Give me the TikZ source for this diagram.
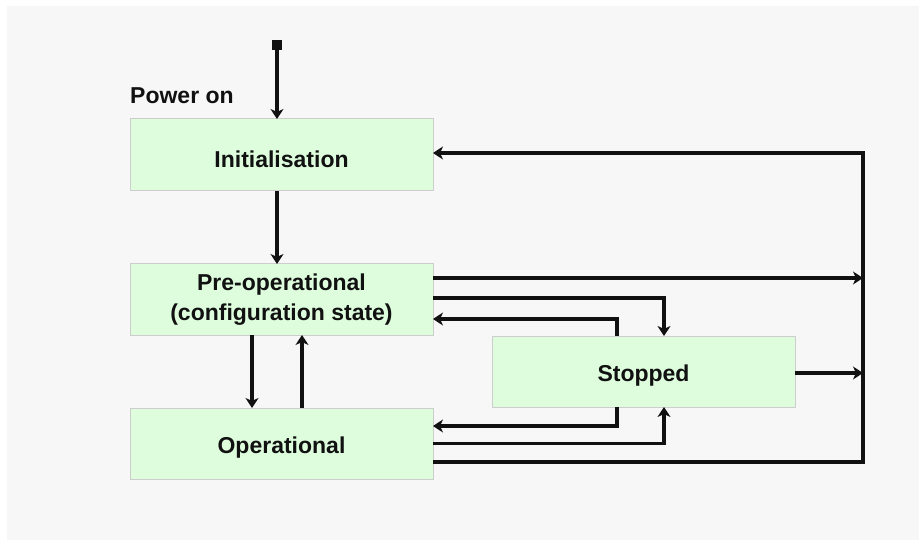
\documentclass[tikz,border=0pt]{standalone}
\usepackage{fontspec}
\setmainfont{Liberation Sans}
\usetikzlibrary{arrows.meta}
\definecolor{pagegray}{HTML}{F7F7F7}
\definecolor{statefill}{HTML}{DDFDDD}
\definecolor{stateline}{HTML}{CDCDCD}
\definecolor{ink}{HTML}{111111}
\begin{document}
\begin{tikzpicture}[x=1pt,y=-1pt,
  statebox/.style={draw=stateline, line width=1pt, fill=statefill,
    minimum width=303pt, inner sep=0pt, outer sep=0pt, align=center,
    text=ink, font=\fontsize{23}{30}\selectfont\bfseries,
    % extra strut on the first line sets the label a little low in the box
    execute at begin node={\rule{0pt}{25pt}}},
  arr/.style={draw=ink, line width=3.2pt,
    -{Stealth[length=10pt,width=13pt,inset=3pt]}},
  startsq/.style={{Square[length=10pt,width=10.5pt]}-{Stealth[length=10pt,width=13pt,inset=3pt]}}
]
% canvas
\useasboundingbox (0,0) rectangle (919,540);
\fill[white] (0,0) rectangle (919,540);
\fill[pagegray] (7,6) rectangle (919,540);

% states
\node[statebox, minimum height=72pt] (init) at (281.5,155) {Initialisation};
\node[statebox, minimum height=71pt] (pre)  at (281.5,299.5) {Pre-operational\\(configuration state)};
\node[statebox, minimum height=71pt] (oper) at (281.5,443.5) {Operational};
\node[statebox, minimum height=71pt] (stop) at (643.5,371.5) {Stopped};

% power on entry
\node[anchor=base west, text=ink, font=\fontsize{23}{28}\selectfont\bfseries, inner sep=0pt] (pwrlabel) at (130,104) {Power on};
\coordinate (pwr) at (277,40);
\draw[arr, startsq] (pwr) -- (init.north -| pwr);

% initialisation to pre-operational
\draw[arr] (init.south -| pwr) -- (pre.north -| pwr);

% pre-operational <-> operational
\draw[arr] ([xshift=-29.5pt]pre.south) -- ([xshift=-29.5pt]oper.north);
\draw[arr] ([xshift=20.5pt]oper.north) -- ([xshift=20.5pt]pre.south);

% connection points on the right edges
\coordinate (bus) at (863,153);
\coordinate (p1) at ([yshift=21.5pt]pre.east);
\coordinate (p2) at ([yshift=1.5pt]pre.east);
\coordinate (p3) at ([yshift=-19.5pt]pre.east);
\coordinate (o1) at ([yshift=17.5pt]oper.east);
\coordinate (o2) at (oper.east);
\coordinate (o3) at ([yshift=-18.5pt]oper.east);
\coordinate (sl) at ([xshift=-26.5pt]stop.north);
\coordinate (sr) at ([xshift=20.5pt]stop.north);
\coordinate (bl) at ([xshift=-26.5pt]stop.south);
\coordinate (br) at ([xshift=20.5pt]stop.south);

% transitions into the reset bus
\draw[arr] (p1) -- (p1 -| bus);
\draw[arr] ([yshift=-1.5pt]stop.east) -- ([yshift=-1.5pt]stop.east -| bus);
\draw[arr] (o3) -| (bus) -- (bus -| init.east);

% pre-operational <-> stopped
\draw[arr] (p2) -| (sr);
\draw[arr] (sl) |- (p3);

% operational <-> stopped
\draw[arr] (bl) |- (o1);
\draw[arr] (o2) -| (br);
\end{tikzpicture}
\end{document}
